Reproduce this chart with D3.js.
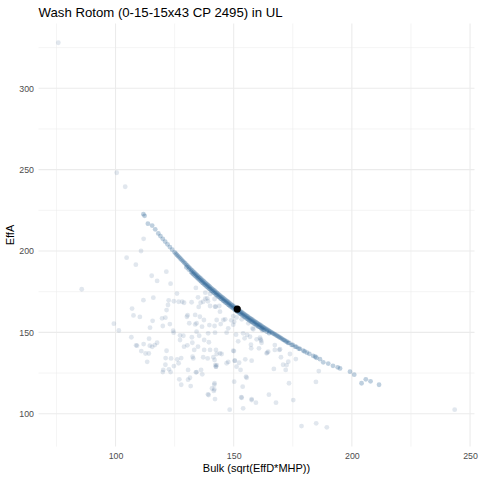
<!DOCTYPE html>
<html>
<head>
<meta charset="utf-8">
<script src="https://cdn.jsdelivr.net/npm/d3@7"></script>
<style>
  body { margin: 0; background: #fff; }
  text { font-family: "Liberation Sans", Arial, sans-serif; }
</style>
</head>
<body>
<div id="chart"></div>
<script>
// IV spreads under the CP cap
const chartTitle = "Wash Rotom (0-15-15x43 CP 2495) in UL";
const xLabel = "Bulk (sqrt(EffD*MHP))";
const yLabel = "EffA";

const xTicks = [100, 150, 200, 250];
const yTicks = [100, 150, 200, 250, 300];
const xMinor = [75, 125, 175, 225];
const yMinor = [125, 175, 225, 275, 325];

// all the other spreads (grey-blue cloud)
const otherBulk = [75.8, 100.5, 104.1, 111.9, 110.8, 104.7, 108.6, 85.7, 115.3, 117.6, 116, 111.8, 107, 107.6, 110.3, 99.3, 101.4, 115.7, 114.6, 106.7, 108.7, 109.1, 111.9, 114.2, 114.5, 115.5, 116.6, 117.6, 110.9, 112.7, 114.1, 113.4,
  121.5, 123.3, 126, 134, 122.5, 122.2, 124.7, 126.7, 129, 132.2, 134.9, 135.2, 136, 138, 139.1, 140, 141.9, 142.4, 143.9, 138, 140, 130.2, 119.7, 121.1, 123, 133.7, 135.7, 134.3, 137.4, 139.7, 142.8, 144.5, 146.4, 149, 151.2, 149.8,
  120, 121.6, 124.6, 121.6, 123.5, 126.1, 121.2, 120.2, 120, 122.6, 123.3, 121.1, 124.7, 126.7, 127.8, 127, 127.8, 130.7, 131.5, 130.7, 131.8, 134.3, 136.2, 132.9, 137.1, 139, 141.4, 142.8, 142.5, 141.9, 144.2, 137.5, 140, 134.9, 133.3, 132.5, 130.4, 129, 127.3, 128.7, 132.3, 135.4, 137.5, 139.5, 142.1, 141.9, 139.2, 136.6, 134.3, 133.7, 131.2, 130.5, 128.2, 124.4, 127.3, 142.5, 147, 147.7, 149.8, 151, 151.9, 150.1, 150.4, 147.7, 151.2, 150.2, 153.8, 153.2, 154, 148.3, 155.2, 154.9, 157.6, 157.6, 159.4, 154.6, 156.9, 158.3, 159.7, 157.4, 141.8, 141.8, 142.1, 139.4, 141.9,
  132.6, 134, 136.7, 141.6, 140.8, 139.1, 142.2, 142.8, 144.9, 147, 152.3, 149.8, 152.9, 155.5, 153.4, 164.9, 167.9, 164.2, 167.4, 169.3, 170.9, 167, 173.4, 160.7, 161.6, 157.3,
  156.2, 155.7, 161.4, 161.8, 158, 163.9, 164.6, 169.6, 170, 172.4, 173.1, 172, 167.4, 173.8, 176.3, 186, 184.8, 243.5, 178.7, 184.9, 189.4, 175.2, 157.6,
  137.1, 138.8, 142.1, 144.2, 145.6, 150.2, 153.4, 154, 161.1, 162, 142.5, 150.5];
const otherEffA = [328, 248.1, 239.5, 207.5, 200, 195.9, 191.6, 176.5, 184.8, 181.6, 171.3, 169.8, 164.6, 160.4, 159.5, 155.3, 151.2, 157.1, 152.9, 147, 142, 141.8, 142.8, 146.1, 141.8, 141.1, 142.2, 143.6, 138.5, 137, 137, 131.9,
  187.3, 179.9, 173.8, 177.3, 169.7, 166.8, 169.1, 168.8, 168.2, 168.5, 171.5, 165.6, 168.2, 170.7, 169.1, 166.2, 170.5, 165.8, 166.2, 174.4, 173.6, 159.6, 158.6, 159, 155.1, 160.7, 159.6, 155.6, 157.6, 154.5, 157.6, 155.1, 158, 157.4, 159.2, 160,
  153.9, 163.7, 149.8, 138.7, 134, 133.4, 134.2, 126.9, 125.6, 127.3, 125.6, 130.1, 129.3, 131, 134.2, 121.1, 117.8, 126.9, 122.1, 120.9, 117, 125.6, 126.9, 134, 134.7, 134, 134.7, 129.9, 128.9, 133, 137.1, 139.2, 139.2, 141.2, 139.2, 143.6, 142, 141.2, 145.3, 147.9, 147, 147.9, 145.3, 143.9, 149.8, 153.9, 149.4, 153.5, 150.4, 154.9, 155.6, 160.5, 168.8, 151, 148.2, 139.2, 149.8, 152.5, 154.7, 148.6, 144.5, 138.5, 132.6, 131.8, 128.9, 119.7, 116.6, 110.1, 103.3, 102.5, 122.7, 133.4, 132.6, 108.4, 106.8, 146.3, 147.3, 151.9, 145.7, 140.2, 117.8, 115, 109, 111.5, 118.7,
  135, 125.4, 124.2, 114, 115.5, 111.9, 129.9, 136.7, 136.7, 131, 131.3, 138.7, 126.9, 122.1, 109.8, 111.7, 106.8, 137.5, 139.2, 139.2, 130.1, 127.5, 118.7, 140.2, 144.9, 142.4,
  155.6, 148.4, 145.7, 143.6, 152.5, 137.1, 138.1, 139.6, 134.7, 129.9, 132, 126.9, 142.2, 136.7, 133.6, 126.2, 119.5, 102.5, 92.4, 94.1, 91.6, 108.4, 109,
  168.8, 170.9, 165.8, 162.7, 157.6, 156.5, 158, 149.4, 146.7, 151.3, 128.9, 132.6];

// spreads sitting right at the CP cap (blue band)
const capBulk = [111.8, 112.3, 113.7, 115.5, 116.8, 118.1, 119.0, 120.0, 121.0, 122.0, 123.0, 124.0,
  125, 125.5, 126, 126.5, 127, 127.5, 128, 128.5, 129, 129.5, 130, 130.5, 131, 131.5, 132, 132.5, 133, 133.5, 134, 134.5, 135, 135.5, 136, 136.5, 137, 137.5, 138, 138.5, 139, 139.5, 140, 140.5, 141, 141.5, 142, 142.5, 143, 143.5, 144, 144.5, 145, 145.5, 146, 146.5, 147, 147.5, 148, 148.5, 149, 149.5, 150, 150.5, 151, 151.5, 152, 152.5, 153, 153.5, 154, 154.5, 155, 155.5, 156, 156.5, 157, 157.5, 158, 158.5, 159, 159.5, 160, 160.5, 161, 161.5, 162, 162.5, 163, 163.5, 164, 164.5, 165, 165.5, 166, 166.5, 167, 167.5, 168, 168.5, 169, 169.5, 170,
  130, 131, 132, 133, 134, 135, 136, 137, 138, 139, 140, 141, 142, 143, 144, 145, 146, 147, 148, 149, 150, 151, 152, 153, 154, 155, 156, 157, 158, 159, 160, 161, 162, 163, 164, 165,
  132.5, 133.5, 134.5, 135.5, 136.5, 137.5, 138.5, 139.5, 140.5, 141.5, 142.5, 143.5, 144.5, 145.5, 146.5, 147.5, 148.5, 149.5, 150.5, 151.5, 152.5, 153.5, 154.5, 155.5, 156.5, 157.5, 158.5, 159.5, 160.5, 161.5, 162.5,
  170.5, 171, 171.5, 172, 172.5, 173, 173.5, 174.5, 175, 176, 176.5, 177.5, 178, 179.4, 180, 181, 182, 183.6, 184.5, 185, 186.5, 187.9, 190, 192, 194, 195, 199.2, 201, 204.1, 205.9, 207.9, 211.5];
const capEffA = [222.6, 221.6, 216.8, 215.6, 213.3, 210.8, 209.2, 207.5, 205.8, 204.1, 202.4, 200.8,
  199.2, 198.4, 197.6, 196.8, 196.1, 195.3, 194.5, 193.8, 193.0, 192.3, 191.5, 190.8, 190.1, 189.3, 188.6, 187.9, 187.2, 186.5, 185.8, 185.1, 184.4, 183.8, 183.1, 182.4, 181.8, 181.1, 180.4, 179.8, 179.1, 178.5, 177.9, 177.2, 176.6, 176.0, 175.4, 174.7, 174.1, 173.5, 172.9, 172.3, 171.7, 171.1, 170.5, 170.0, 169.4, 168.8, 168.2, 167.7, 167.1, 166.6, 166.0, 165.4, 164.9, 164.4, 163.8, 163.3, 162.7, 162.2, 161.7, 161.2, 160.6, 160.1, 159.6, 159.1, 158.6, 158.1, 157.6, 157.1, 156.6, 156.1, 155.6, 155.1, 154.7, 154.2, 153.7, 153.2, 152.8, 152.3, 151.8, 151.4, 150.9, 150.5, 150.0, 149.5, 149.1, 148.7, 148.2, 147.8, 147.3, 146.9, 146.5,
  190.0, 188.6, 187.1, 185.7, 184.3, 183.0, 181.6, 180.3, 179.0, 177.7, 176.5, 175.2, 174.0, 172.7, 171.5, 170.3, 169.1, 168.0, 166.8, 165.7, 164.6, 163.5, 162.4, 161.3, 160.3, 159.2, 158.2, 157.2, 156.2, 155.2, 154.2, 153.3, 152.3, 151.4, 150.4, 149.5,
  186.3, 184.9, 183.5, 182.2, 180.8, 179.5, 178.2, 176.9, 175.6, 174.4, 173.1, 171.9, 170.7, 169.5, 168.4, 167.2, 166.1, 165.0, 163.8, 162.8, 161.7, 160.6, 159.6, 158.5, 157.5, 156.5, 155.5, 154.5, 153.5, 152.6, 151.6,
  146.0, 145.4, 145.2, 144.5, 144.3, 143.5, 143.5, 142.3, 142.3, 141.2, 141.1, 140.0, 139.9, 138.8, 138.3, 137.5, 136.8, 135.6, 135.0, 134.4, 133.5, 131.6, 130.8, 129.4, 128.5, 127.8, 125.8, 124.0, 118.7, 121.1, 119.9, 117.8];

// the highlighted spread
const pickBulk = [151.5];
const pickEffA = [164.3];

const W = 480, H = 480;
const panel = { left: 38.5, right: 474.5, top: 23.5, bottom: 446.6 };

const allX = otherBulk.concat(capBulk, pickBulk);
const allY = otherEffA.concat(capEffA, pickEffA);

// ggplot-style 5% expansion
function expand(ext) {
  const pad = (ext[1] - ext[0]) * 0.05;
  return [ext[0] - pad, ext[1] + pad];
}

const x = d3.scaleLinear().domain(expand(d3.extent(allX))).range([panel.left, panel.right]);
const y = d3.scaleLinear().domain(expand(d3.extent(allY))).range([panel.bottom, panel.top]);

const svg = d3.select("#chart").append("svg")
  .attr("width", W)
  .attr("height", H);

// grid
const grid = svg.append("g");
grid.selectAll(".xminor").data(xMinor).enter().append("line")
  .attr("x1", d => x(d)).attr("x2", d => x(d))
  .attr("y1", panel.top).attr("y2", panel.bottom)
  .attr("stroke", "#ebebeb").attr("stroke-width", 0.55);
grid.selectAll(".yminor").data(yMinor).enter().append("line")
  .attr("y1", d => y(d)).attr("y2", d => y(d))
  .attr("x1", panel.left).attr("x2", panel.right)
  .attr("stroke", "#ebebeb").attr("stroke-width", 0.55);
grid.selectAll(".xmajor").data(xTicks).enter().append("line")
  .attr("x1", d => x(d)).attr("x2", d => x(d))
  .attr("y1", panel.top).attr("y2", panel.bottom)
  .attr("stroke", "#ebebeb").attr("stroke-width", 1.07);
grid.selectAll(".ymajor").data(yTicks).enter().append("line")
  .attr("y1", d => y(d)).attr("y2", d => y(d))
  .attr("x1", panel.left).attr("x2", panel.right)
  .attr("stroke", "#ebebeb").attr("stroke-width", 1.07);

// points
svg.append("g").selectAll("circle")
  .data(d3.zip(otherBulk, otherEffA))
  .enter().append("circle")
  .attr("cx", d => x(d[0]))
  .attr("cy", d => y(d[1]))
  .attr("r", 2.4)
  .attr("fill", "#35618a")
  .attr("fill-opacity", 0.15);

svg.append("g").selectAll("circle")
  .data(d3.zip(capBulk, capEffA))
  .enter().append("circle")
  .attr("cx", d => x(d[0]))
  .attr("cy", d => y(d[1]))
  .attr("r", 2.4)
  .attr("fill", "#2c6496")
  .attr("fill-opacity", 0.3);

svg.append("g").selectAll("circle")
  .data(d3.zip(pickBulk, pickEffA))
  .enter().append("circle")
  .attr("cx", d => x(d[0]))
  .attr("cy", d => y(d[1]))
  .attr("r", 3.6)
  .attr("fill", "#000");

// axes
const xAxis = svg.append("g")
  .attr("transform", `translate(0,${panel.bottom})`)
  .call(d3.axisBottom(x).tickValues(xTicks).tickSize(0).tickPadding(5.8));
xAxis.select(".domain").remove();
xAxis.selectAll("text")
  .attr("fill", "#4d4d4d")
  .style("font-size", "8.8px")
  .style("font-family", "Liberation Sans, Arial, sans-serif");

const yAxis = svg.append("g")
  .attr("transform", `translate(${panel.left},0)`)
  .call(d3.axisLeft(y).tickValues(yTicks).tickSize(0).tickPadding(4.5));
yAxis.select(".domain").remove();
yAxis.selectAll("text")
  .attr("fill", "#4d4d4d")
  .style("font-size", "8.8px")
  .style("font-family", "Liberation Sans, Arial, sans-serif");

// labels
svg.append("text")
  .attr("x", panel.left)
  .attr("y", 16.8)
  .attr("font-size", "13.2px")
  .attr("fill", "#000")
  .text(chartTitle);

svg.append("text")
  .attr("text-anchor", "middle")
  .attr("x", (panel.left + panel.right) / 2)
  .attr("y", 471.6)
  .attr("font-size", "11px")
  .attr("fill", "#000")
  .text(xLabel);

svg.append("text")
  .attr("text-anchor", "middle")
  .attr("transform", `translate(14,${(panel.top + panel.bottom) / 2}) rotate(-90)`)
  .attr("font-size", "11px")
  .attr("fill", "#000")
  .text(yLabel);
</script>
</body>
</html>
